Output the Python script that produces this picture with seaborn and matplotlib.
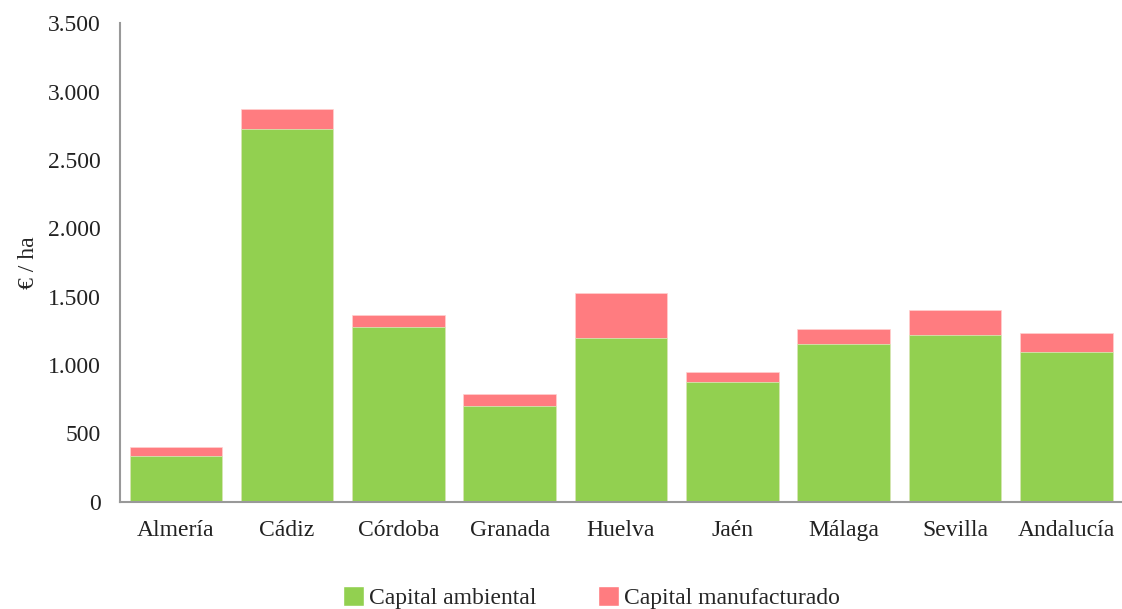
import matplotlib
matplotlib.use("Agg")
import matplotlib.pyplot as plt
import matplotlib.ticker as mticker
from matplotlib.patches import Patch
import seaborn as sns
import pandas as pd

categories = ["Almería", "Cádiz", "Córdoba", "Granada", "Huelva", "Jaén", "Málaga", "Sevilla", "Andalucía"]
capital_ambiental = [334, 2723, 1276, 697, 1196, 879, 1152, 1220, 1096]
capital_manufacturado = [68, 146, 90, 92, 331, 69, 112, 181, 137]
series_labels = ["Capital ambiental", "Capital manufacturado"]
yticks = [0, 500, 1000, 1500, 2000, 2500, 3000, 3500]

GREEN = "#92D050"
RED = "#FF7C80"

df = pd.DataFrame({
    "cat": categories,
    "amb": capital_ambiental,
    "total": [a + m for a, m in zip(capital_ambiental, capital_manufacturado)],
})

sns.set_theme(style="white")
plt.rcParams["font.family"] = ["Liberation Serif", "DejaVu Serif"]

fig = plt.figure(figsize=(11.22, 6.09), dpi=100)
ax = fig.add_axes([0.107, 0.176, 0.893, 0.786])

sns.barplot(data=df, x="cat", y="total", color=RED, saturation=1, width=0.83,
            edgecolor="#FFD0D0", linewidth=0.5, ax=ax)
sns.barplot(data=df, x="cat", y="amb", color=GREEN, saturation=1, width=0.83,
            edgecolor="#D8F0C0", linewidth=0.5, ax=ax)

ax.set_ylim(0, 3500)
ax.set_xlim(-0.5, len(categories) - 0.5)
ax.set_yticks(yticks)
ax.yaxis.set_major_formatter(mticker.FuncFormatter(lambda v, p: f"{int(v):,}".replace(",", ".")))
ax.set_xlabel("")
ax.set_ylabel("€ / ha", fontsize=17, labelpad=6)
ax.tick_params(axis="both", labelsize=17, colors="#222222", length=0)
ax.tick_params(axis="x", pad=13)
ax.tick_params(axis="y", pad=14)

for s in ["top", "right"]:
    ax.spines[s].set_visible(False)
for s in ["left", "bottom"]:
    ax.spines[s].set_color("#999999")
    ax.spines[s].set_linewidth(1.5)

handles = [Patch(facecolor=GREEN, label=series_labels[0]),
           Patch(facecolor=RED, label=series_labels[1])]
fig.legend(handles=handles, loc="lower center", bbox_to_anchor=(0.527, -0.035), ncol=2,
           frameon=False, fontsize=17, handlelength=0.9, handleheight=0.9,
           handletextpad=0.2, columnspacing=2.6)

fig.savefig("out.png", dpi=100)
